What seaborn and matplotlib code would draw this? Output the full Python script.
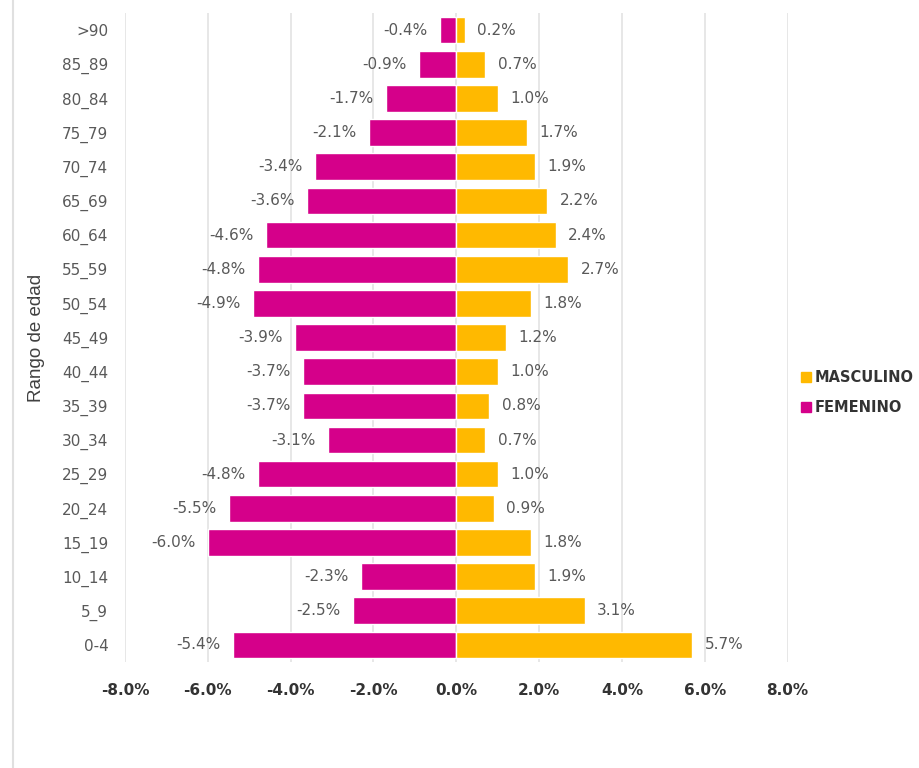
import pandas as pd
import seaborn as sns
import matplotlib.pyplot as plt
from matplotlib.lines import Line2D
from matplotlib.ticker import FuncFormatter

# Datos de la pirámide (de arriba hacia abajo)
rangos = [">90", "85_89", "80_84", "75_79", "70_74", "65_69", "60_64", "55_59",
          "50_54", "45_49", "40_44", "35_39", "30_34", "25_29", "20_24",
          "15_19", "10_14", "5_9", "0-4"]
femenino = [-0.4, -0.9, -1.7, -2.1, -3.4, -3.6, -4.6, -4.8, -4.9, -3.9,
            -3.7, -3.7, -3.1, -4.8, -5.5, -6.0, -2.3, -2.5, -5.4]
masculino = [0.2, 0.7, 1.0, 1.7, 1.9, 2.2, 2.4, 2.7, 1.8, 1.2,
             1.0, 0.8, 0.7, 1.0, 0.9, 1.8, 1.9, 3.1, 5.7]
x_ticks = [-8, -6, -4, -2, 0, 2, 4, 6, 8]

col_fem = "#D5008A"
col_mas = "#FFB900"

df = pd.DataFrame({
    "rango": rangos * 2,
    "sexo": ["FEMENINO"] * len(rangos) + ["MASCULINO"] * len(rangos),
    "valor": femenino + masculino,
})

sns.set_style("white")
plt.rcParams["font.family"] = ["Liberation Sans", "DejaVu Sans"]

fig = plt.figure(figsize=(9.19, 7.68), dpi=100)
ax = fig.add_axes([0.136, 0.138, 0.721, 0.845])

sns.barplot(data=df, y="rango", x="valor", hue="sexo", order=rangos,
            dodge=False, palette={"FEMENINO": col_fem, "MASCULINO": col_mas},
            saturation=1, width=0.78, orient="h", ax=ax, legend=False)

# Etiquetas de valor
for i, (f, m) in enumerate(zip(femenino, masculino)):
    ax.text(f - 0.3, i, f"{f:.1f}%", ha="right", va="center",
            fontsize=11, color="#595959", family="DejaVu Sans")
    ax.text(m + 0.3, i, f"{m:.1f}%", ha="left", va="center",
            fontsize=11, color="#595959", family="DejaVu Sans")

ax.set_xlim(-8, 8)
ax.set_ylim(len(rangos) - 0.5, -0.5)
ax.set_xticks(x_ticks)
ax.xaxis.set_major_formatter(FuncFormatter(lambda v, p: f"{v:.1f}%"))
ax.grid(axis="x", color="#E3E3E3", linewidth=1.2)
ax.set_axisbelow(True)
for s in ax.spines.values():
    s.set_visible(False)

ax.tick_params(axis="x", length=0, pad=15, labelcolor="#333333")
for lbl in ax.get_xticklabels():
    lbl.set_family("DejaVu Sans")
    lbl.set_fontweight("bold")
    lbl.set_fontsize(11)
ax.tick_params(axis="y", length=0, pad=12, labelcolor="#595959")
for lbl in ax.get_yticklabels():
    lbl.set_family("DejaVu Sans")
    lbl.set_fontsize(11)

ax.set_xlabel("")
ax.set_ylabel("Rango de edad", fontsize=13.5, color="#404040")
ax.yaxis.set_label_coords(-0.121, 0.5)

# Leyenda a la derecha
handles = [Line2D([], [], marker="s", linestyle="", color=col_mas, markersize=7),
           Line2D([], [], marker="s", linestyle="", color=col_fem, markersize=7)]
leg = fig.legend(handles, ["MASCULINO", "FEMENINO"], loc="center left",
                 bbox_to_anchor=(0.855, 0.489), frameon=False,
                 prop={"family": "DejaVu Sans", "weight": "bold", "size": 10.5},
                 handletextpad=0.1, labelspacing=1.0, handlelength=1.0)
for t in leg.get_texts():
    t.set_color("#333333")

# Borde izquierdo del recuadro
fig.add_artist(Line2D([0.014, 0.014], [0.0, 1.0], color="#E0E0E0", linewidth=1.5))

fig.savefig("out.png", dpi=100)
